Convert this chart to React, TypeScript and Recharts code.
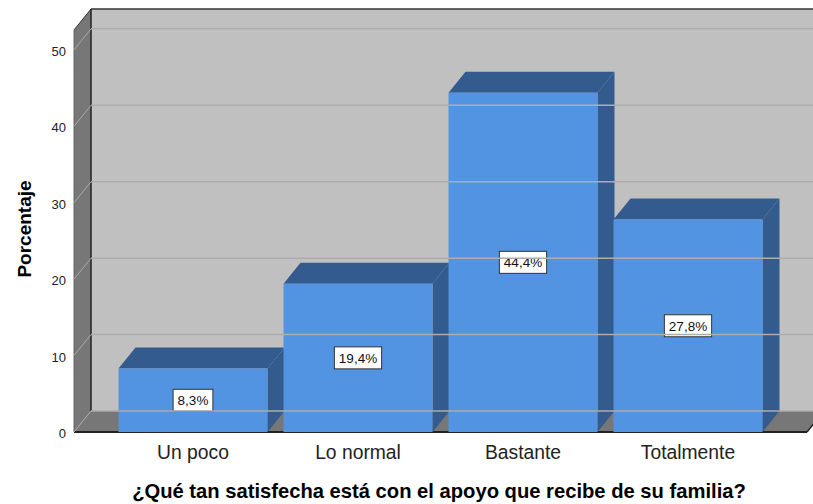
import React from 'react';
import { BarChart, Bar, XAxis, YAxis, ReferenceArea, ReferenceLine, Label } from 'recharts';

const categorias = ['Un poco', 'Lo normal', 'Bastante', 'Totalmente'];
const porcentajes = [8.3, 19.4, 44.4, 27.8];
const yTicks = [0, 10, 20, 30, 40, 50];
const yDomainMax = 52.6;
const xTitle = '¿Qué tan satisfecha está con el apoyo que recibe de su familia?';
const yTitle = 'Porcentaje';

const data = categorias.map((c, i) => ({ categoria: c, porcentaje: porcentajes[i] }));

const DX = 17;
const DY = -21;
const PAD_L = 36.5;
const PAD_R = 36.5;
const FONT = '"Liberation Sans", Arial, sans-serif';
const FRONT = '#5294e2';
const DARK = '#335b8d';
const WALL = '#c0c0c0';
const SIDEWALL = '#777777';

const fmt = (v: number) => v.toFixed(1).replace('.', ',') + '%';
const textWidth = (s: string, size: number) => {
  let w = 0;
  for (const ch of s) {
    if (ch === ',' || ch === '.') w += 0.278;
    else if (ch === '%') w += 0.889;
    else w += 0.556;
  }
  return w * size;
};

const Walls = (p: any) => {
  const x = p.x - PAD_L;
  const w = p.width + PAD_L + PAD_R;
  const { y, height: h } = p;
  return (
    <g>
      <rect x={x + DX} y={y + DY} width={w} height={h} fill={WALL} />
      <polygon
        points={`${x},${y} ${x + DX},${y + DY} ${x + DX},${y + h + DY} ${x},${y + h}`}
        fill={SIDEWALL}
      />
      <polygon
        points={`${x},${y + h} ${x + DX},${y + h + DY} ${x + w + DX},${y + h + DY} ${x + w},${y + h}`}
        fill={SIDEWALL}
      />
      <line x1={x + DX} y1={y + DY} x2={x + w + DX} y2={y + DY} stroke="#333" strokeWidth={1.5} />
      <line x1={x + DX} y1={y + DY} x2={x + DX} y2={y + h + DY} stroke="#222" strokeWidth={1.5} />
      <line x1={x} y1={y} x2={x + DX} y2={y + DY} stroke="#333" strokeWidth={1} />
      <line x1={x} y1={y} x2={x} y2={y + h} stroke="#666" strokeWidth={1} />
      <line x1={x} y1={y + h} x2={x + w} y2={y + h} stroke="#222" strokeWidth={2} />
      <line x1={x + w} y1={y + h} x2={x + w + DX} y2={y + h + DY} stroke="#222" strokeWidth={1.5} />
    </g>
  );
};

const GridLine = (p: any) => {
  const { x1, y1, x2 } = p;
  return (
    <g>
      <line x1={x1} y1={y1} x2={x1 + DX} y2={y1 + DY} stroke="#a9a9a9" strokeWidth={1} />
      <line x1={x1 + DX} y1={y1 + DY} x2={x2 + DX} y2={y1 + DY} stroke="#adadad" strokeWidth={1.5} />
    </g>
  );
};

const Bar3D = (p: any) => {
  const { x, y, width: w, height: h, payload } = p;
  const v = payload?.porcentaje ?? 0;
  const label = fmt(v);
  const fs = 13.5;
  const bw = textWidth(label, fs) + 9;
  const bh = 22;
  const cx = x + w / 2;
  const cy = y + h / 2;
  return (
    <g>
      <polygon
        points={`${x + w},${y} ${x + w + DX},${y + DY} ${x + w + DX},${y + h + DY} ${x + w},${y + h}`}
        fill={DARK}
      />
      <polygon
        points={`${x},${y} ${x + DX},${y + DY} ${x + w + DX},${y + DY} ${x + w},${y}`}
        fill={DARK}
      />
      <rect x={x} y={y} width={w} height={h} fill={FRONT} />
      <rect x={cx - bw / 2} y={cy - bh / 2} width={bw} height={bh} fill="#ffffff" stroke="#333" strokeWidth={1} />
      <text x={cx} y={cy + 5} textAnchor="middle" fontFamily={FONT} fontSize={fs} fill="#111">
        {label}
      </text>
    </g>
  );
};

const XTick = (p: any) => (
  <text x={p.x} y={p.y + 25} textAnchor="middle" fontFamily={FONT} fontSize={19.3} fill="#222">
    {p.payload.value}
  </text>
);

const YTick = (p: any) => (
  <text x={66} y={p.y + 6} textAnchor="end" fontFamily={FONT} fontSize={13} fill="#222">
    {p.payload.value}
  </text>
);

export default function App() {
  return (
    <div style={{ position: 'absolute', left: 0, top: 0, width: 813, height: 504, background: '#fff' }}>
      <BarChart
        width={813}
        height={504}
        data={data}
        margin={{ top: 30, right: 6, bottom: 32, left: 14 }}
      >
        <ReferenceArea y1={0} y2={yDomainMax} ifOverflow="visible" shape={(p: any) => <Walls {...p} />} />
        {yTicks.map((t) => (
          <ReferenceLine key={t} y={t} ifOverflow="visible" shape={(p: any) => <GridLine {...p} />} />
        ))}
        <XAxis
          dataKey="categoria"
          height={40}
          padding={{ left: PAD_L, right: PAD_R }}
          axisLine={false}
          tickLine={false}
          tickSize={0}
          tick={<XTick />}
          interval={0}
        >
          <Label
            content={() => (
              <text x={439} y={498} textAnchor="middle" fontFamily={FONT} fontSize={20.2} fontWeight="bold" fill="#000">
                {xTitle}
              </text>
            )}
          />
        </XAxis>
        <YAxis
          width={60}
          domain={[0, yDomainMax]}
          ticks={yTicks}
          axisLine={false}
          tickLine={false}
          tick={<YTick />}
          interval={0}
        >
          <Label
            content={() => (
              <text
                x={31}
                y={229}
                transform="rotate(-90, 31, 229)"
                textAnchor="middle"
                fontFamily={FONT}
                fontSize={19}
                fontWeight="bold"
                fill="#000"
              >
                {yTitle}
              </text>
            )}
          />
        </YAxis>
        <Bar dataKey="porcentaje" barSize={149} isAnimationActive={false} shape={(p: any) => <Bar3D {...p} />} />
      </BarChart>
    </div>
  );
}
